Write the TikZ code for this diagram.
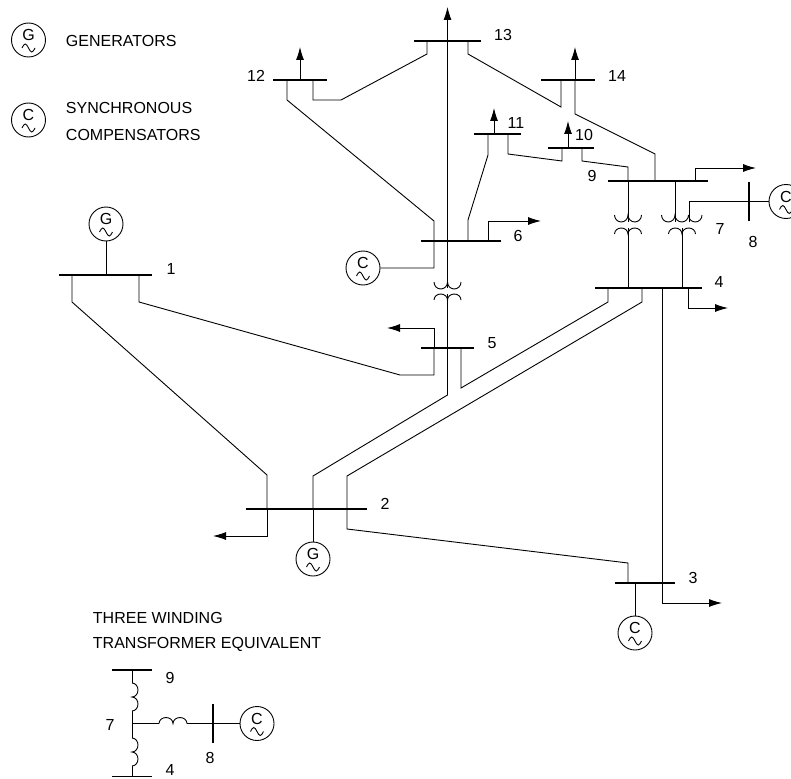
\documentclass[tikz,border=0pt]{standalone}
\usepackage{fontspec}
\setmainfont{Liberation Sans}
\usetikzlibrary{arrows.meta}
\tikzset{
	G node/.style={circle,draw,minimum size=34pt,inner sep=0pt,text height=12pt,text depth=10.6pt,font=\fontsize{16}{16}\selectfont,
		path picture={\draw ([xshift=-6.5pt,yshift=-8pt]path picture bounding box.center) sin ++(3.25pt,4pt) cos ++(3.25pt,-4pt) sin ++(3.25pt,-4pt) cos ++(3.25pt,4pt);}},
	bus node/.style={rectangle,fill=black,inner sep=0pt,outer sep=0pt,minimum height=1.6pt},
	bar node/.style={rectangle,fill=black,inner sep=0pt,outer sep=0pt,minimum width=1.4pt},
	T node/.style={inner sep=0pt,font=\fontsize{16}{16}\selectfont},
	load/.style={-{Latex[length=13pt,width=8pt]}},
	cups/.pic={\draw (-13.5,0) arc[start angle=180,end angle=0,x radius=6.75,y radius=7] arc[start angle=180,end angle=0,x radius=6.75,y radius=7];},
	caps/.pic={\draw (-13.5,0) arc[start angle=180,end angle=360,x radius=6.75,y radius=6] arc[start angle=180,end angle=360,x radius=6.75,y radius=6];},
	vcoil/.pic={\draw (0,0) arc[start angle=270,end angle=450,x radius=6,y radius=7] arc[start angle=270,end angle=450,x radius=6,y radius=7];},
	hcoil/.pic={\draw (0,0) arc[start angle=180,end angle=360,x radius=7,y radius=6] arc[start angle=180,end angle=360,x radius=7,y radius=6];},
}
\begin{document}
\begin{tikzpicture}[x=1pt,y=-1pt,line width=0.9pt]
	\useasboundingbox (0,0) rectangle (791,778);

	% legend
	\node[G node] (LG) at (28.5,40) {G};
	\node[G node] (LC) at (28.5,120) {C};
	\node[T node,anchor=west] (Lgen) at (65.5,41) {GENERATORS};
	\node[T node,anchor=west] (Lsyn) at (65.5,108) {SYNCHRONOUS};
	\node[T node,anchor=west] (Lcom) at (65.5,135) {COMPENSATORS};

	% buses
	\node[bus node,minimum width=93pt] (b1) at (105.5,275) {};
	\node[bus node,minimum width=121pt] (b2) at (306.5,509) {};
	\node[bus node,minimum width=60pt] (b3) at (645,583) {};
	\node[bus node,minimum width=107pt] (b4) at (648.5,288) {};
	\node[bus node,minimum width=53pt] (b5) at (447.5,348) {};
	\node[bus node,minimum width=80pt] (b6) at (461,241) {};
	\node[bus node,minimum width=100pt] (b9) at (658,181) {};
	\node[bus node,minimum width=46pt] (b10) at (571,148) {};
	\node[bus node,minimum width=47pt] (b11) at (497.5,134) {};
	\node[bus node,minimum width=54pt] (b12) at (300,80) {};
	\node[bus node,minimum width=67pt] (b13) at (447.5,41) {};
	\node[bus node,minimum width=54pt] (b14) at (568,80) {};
	\node[bar node,minimum height=39pt] (b8) at (749,201.5) {};

	% machines
	\node[G node] (G1) at (106,224) {G};
	\node[G node] (G2) at (313,559) {G};
	\node[G node] (C3) at (635,633) {C};
	\node[G node] (C6) at (363,268) {C};
	\node[G node] (C8) at (786,201.5) {C};

	% bus numbers
	\node[T node] (n1) at (171,269) {1};
	\node[T node] (n2) at (385,504) {2};
	\node[T node] (n3) at (693,578) {3};
	\node[T node] (n4) at (719,282) {4};
	\node[T node] (n5) at (492,343) {5};
	\node[T node] (n6) at (518,236) {6};
	\node[T node] (n7) at (720,229) {7};
	\node[T node] (n8) at (753,242) {8};
	\node[T node] (n9) at (592,176) {9};
	\node[T node] (n10) at (584,135) {10};
	\node[T node] (n11) at (516,123) {11};
	\node[T node] (n12) at (256,76) {12};
	\node[T node] (n13) at (503,35) {13};
	\node[T node] (n14) at (617,76) {14};

	% load arrow tips
	\coordinate (l2) at (213,536);
	\coordinate (l3) at (722,603);
	\coordinate (l4) at (728,308);
	\coordinate (l5) at (387,328);
	\coordinate (l6) at (541,221);
	\coordinate (l9) at (756,168);
	\coordinate (l10) at (568,121);
	\coordinate (l11) at (494,108);
	\coordinate (l12) at (300,47);
	\coordinate (l13) at (447.5,7);
	\coordinate (l14) at (575,47);

	% transformer ends
	\coordinate (t56a) at (447.5,288);
	\coordinate (t56b) at (447.5,294);
	\coordinate (t49a) at (628,222);
	\coordinate (t49b) at (628,228);
	\coordinate (t79a) at (675,222);
	\coordinate (t79b) at (682,228);
	\coordinate (t78) at (689,222);

	% lines
	\draw (G1) -- (G1 |- b1);
	\draw (G2) -- (G2 |- b2);
	\draw (C3) -- (C3 |- b3);
	\draw (72,0 |- b1) -- (72,302) -- (267,475) -- (267,0 |- b2);
	\draw (139,0 |- b1) -- (139,302) -- (400,375) -- (434,375) -- (434,0 |- b5);
	\draw (313,0 |- b2) -- (313,476) -- (447.5,395) -- (447.5,0 |- b5);
	\draw (347,0 |- b2) -- (347,476) -- (642,302) -- (642,0 |- b4);
	\draw (347,0 |- b2) -- (347,529) -- (628,563) -- (628,0 |- b3);
	\draw (461,0 |- b5) -- (461,388) -- (608,302) -- (608,0 |- b4);
	\draw (662,0 |- b4) -- (662,0 |- b3);
	\draw (C6) -- (434,268) -- (434,221) -- (287,100) -- (287,0 |- b12);
	\draw (468,0 |- b6) -- (468,220) -- (488,155) -- (488,0 |- b11);
	\draw (508,0 |- b11) -- (508,154) -- (562,161) -- (562,0 |- b10);
	\draw (582,0 |- b10) -- (582,161) -- (628,167) -- (628,0 |- b9);
	\draw (655,0 |- b9) -- (655,154) -- (575,114) -- (575,0 |- b14);
	\draw (468,0 |- b13) -- (468,54) -- (561,107) -- (561,0 |- b14);
	\draw (313,0 |- b12) -- (313,100) -- (341,100) -- (427,54) -- (427,0 |- b13);

	% transformers
	\draw (447.5,0 |- b5) -- (t56b);
	\draw (t56a) -- (447.5,0 |- b6) -- (447.5,0 |- b13);
	\pic at (447.5,282) {cups};
	\pic at (447.5,300) {caps};
	\draw (628,0 |- b9) -- (t49a);
	\draw (t49b) -- (628,0 |- b4);
	\pic at (628,215) {cups};
	\pic at (628,234) {caps};
	\draw (675,0 |- b9) -- (t79a);
	\draw (t79b) -- (682,0 |- b4);
	\draw (t78) -- (689,0 |- b8) -- (b8) -- (C8);
	\pic at (675,215) {cups};
	\pic at (682,234) {caps};
	\draw (688.5,215) arc[start angle=180,end angle=0,x radius=6.75,y radius=7];

	% loads
	\draw[load] (267,0 |- b2) -- (267,0 |- l2) -- (l2);
	\draw[load] (662,0 |- b3) -- (662,0 |- l3) -- (l3);
	\draw[load] (688,0 |- b4) -- (688,0 |- l4) -- (l4);
	\draw[load] (434,0 |- b5) -- (434,0 |- l5) -- (l5);
	\draw[load] (488,0 |- b6) -- (488,0 |- l6) -- (l6);
	\draw[load] (695,0 |- b9) -- (695,0 |- l9) -- (l9);
	\draw[load] (568,0 |- b10) -- (l10);
	\draw[load] (494,0 |- b11) -- (l11);
	\draw[load] (300,0 |- b12) -- (l12);
	\draw[load] (447.5,0 |- b13) -- (l13);
	\draw[load] (575,0 |- b14) -- (l14);

	% three winding equivalent
	\node[T node,anchor=west] (Ltw) at (92.5,618) {THREE WINDING};
	\node[T node,anchor=west] (Ltf) at (92.5,644) {TRANSFORMER EQUIVALENT};
	\node[bus node,minimum width=40pt] (e9) at (132,670) {};
	\node[bus node,minimum width=40pt] (e4) at (132,776.5) {};
	\node[bar node,minimum height=39pt] (e8) at (213,723.5) {};
	\node[G node] (eC) at (257,723.5) {C};
	\coordinate (e7) at (132,723.5);
	\coordinate (e9a) at (132,683);
	\coordinate (e9b) at (132,711);
	\coordinate (e4a) at (132,738);
	\coordinate (e4b) at (132,766);
	\coordinate (e8a) at (159,723.5);
	\coordinate (e8b) at (187,723.5);
	\draw (e9) -- (e9a);
	\draw (e9b) -- (e4a);
	\draw (e4b) -- (e4);
	\draw (e7) -- (e8a);
	\draw (e8b) -- (e8) -- (eC);
	\pic at (e9a) {vcoil};
	\pic at (e4a) {vcoil};
	\pic at (e8a) {hcoil};
	\node[T node] (m9) at (170,678) {9};
	\node[T node] (m7) at (110,725) {7};
	\node[T node] (m8) at (210,758) {8};
	\node[T node] (m4) at (170,770) {4};
\end{tikzpicture}
\end{document}
